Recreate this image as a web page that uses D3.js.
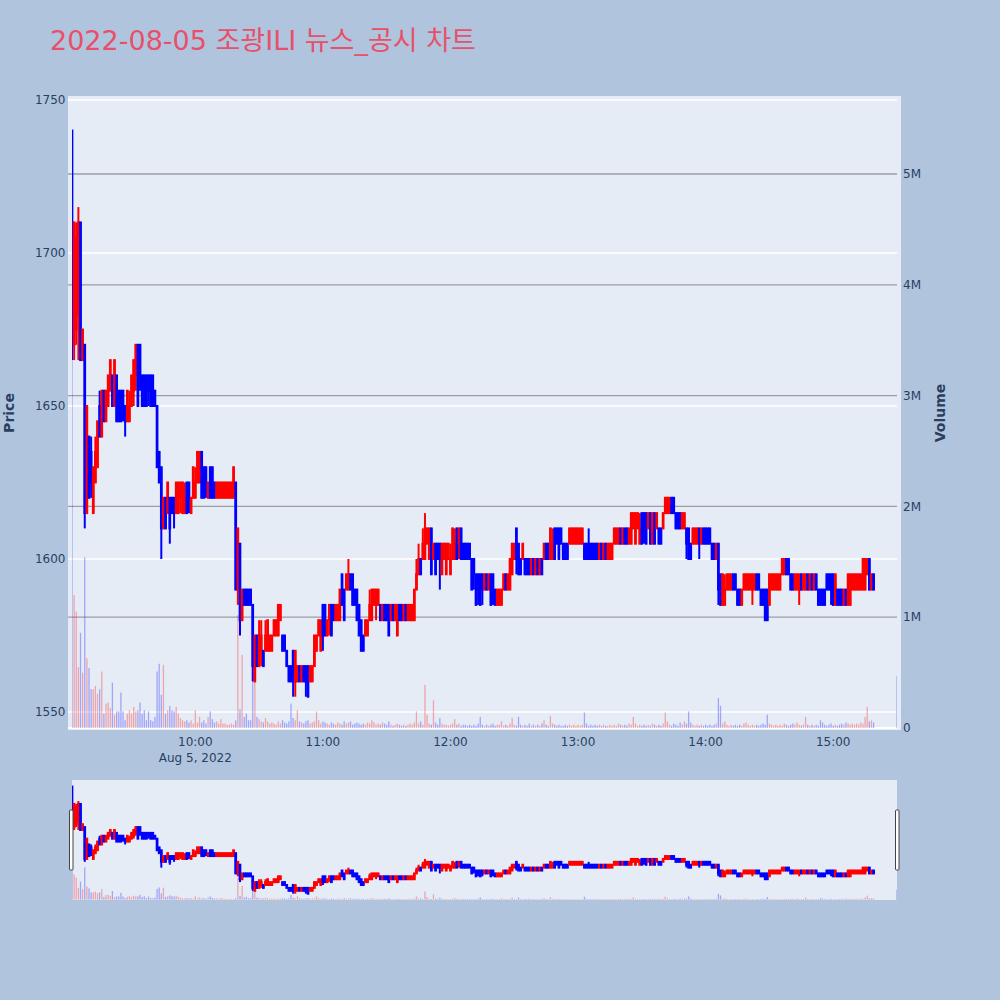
<!DOCTYPE html>
<html><head><meta charset="utf-8">
<script src="https://cdn.jsdelivr.net/npm/d3@7"></script>
<style>body{margin:0;background:#b0c4de;}svg{display:block}</style>
</head><body><svg id="c" width="1000" height="1000"></svg>
<script>
const titleText = "2022-08-05 조광ILI 뉴스_공시 차트";
const times = [
"09:02","09:03","09:04","09:05","09:06","09:07","09:08","09:09",
"09:10","09:11","09:12","09:13","09:14","09:15","09:16","09:17","09:18","09:19",
"09:20","09:21","09:22","09:23","09:24","09:25","09:26","09:27","09:28","09:29",
"09:30","09:31","09:32","09:33","09:34","09:35","09:36","09:37","09:38","09:39",
"09:40","09:41","09:42","09:43","09:44","09:45","09:46","09:47","09:48","09:49",
"09:50","09:51","09:52","09:53","09:54","09:55","09:56","09:57","09:58","09:59",
"10:00","10:01","10:02","10:03","10:04","10:05","10:06","10:07","10:08","10:09",
"10:10","10:11","10:12","10:13","10:14","10:15","10:16","10:17","10:18","10:19",
"10:20","10:21","10:22","10:23","10:24","10:25","10:26","10:27","10:28","10:29",
"10:30","10:31","10:32","10:33","10:34","10:35","10:36","10:37","10:38","10:39",
"10:40","10:41","10:42","10:43","10:44","10:45","10:46","10:47","10:48","10:49",
"10:50","10:51","10:52","10:53","10:54","10:55","10:56","10:57","10:58","10:59",
"11:00","11:01","11:02","11:03","11:04","11:05","11:06","11:07","11:08","11:09",
"11:10","11:11","11:12","11:13","11:14","11:15","11:16","11:17","11:18","11:19",
"11:20","11:21","11:22","11:23","11:24","11:25","11:26","11:27","11:28","11:29",
"11:30","11:31","11:32","11:33","11:34","11:35","11:36","11:37","11:38","11:39",
"11:40","11:41","11:42","11:43","11:44","11:45","11:46","11:47","11:48","11:49",
"11:50","11:51","11:52","11:53","11:54","11:55","11:56","11:57","11:58","11:59",
"12:00","12:01","12:02","12:03","12:04","12:05","12:06","12:07","12:08","12:09",
"12:10","12:11","12:12","12:13","12:14","12:15","12:16","12:17","12:18","12:19",
"12:20","12:21","12:22","12:23","12:24","12:25","12:26","12:27","12:28","12:29",
"12:30","12:31","12:32","12:33","12:34","12:35","12:36","12:37","12:38","12:39",
"12:40","12:41","12:42","12:43","12:44","12:45","12:46","12:47","12:48","12:49",
"12:50","12:51","12:52","12:53","12:54","12:55","12:56","12:57","12:58","12:59",
"13:00","13:01","13:02","13:03","13:04","13:05","13:06","13:07","13:08","13:09",
"13:10","13:11","13:12","13:13","13:14","13:15","13:16","13:17","13:18","13:19",
"13:20","13:21","13:22","13:23","13:24","13:25","13:26","13:27","13:28","13:29",
"13:30","13:31","13:32","13:33","13:34","13:35","13:36","13:37","13:38","13:39",
"13:40","13:41","13:42","13:43","13:44","13:45","13:46","13:47","13:48","13:49",
"13:50","13:51","13:52","13:53","13:54","13:55","13:56","13:57","13:58","13:59",
"14:00","14:01","14:02","14:03","14:04","14:05","14:06","14:07","14:08","14:09",
"14:10","14:11","14:12","14:13","14:14","14:15","14:16","14:17","14:18","14:19",
"14:20","14:21","14:22","14:23","14:24","14:25","14:26","14:27","14:28","14:29",
"14:30","14:31","14:32","14:33","14:34","14:35","14:36","14:37","14:38","14:39",
"14:40","14:41","14:42","14:43","14:44","14:45","14:46","14:47","14:48","14:49",
"14:50","14:51","14:52","14:53","14:54","14:55","14:56","14:57","14:58","14:59",
"15:00","15:01","15:02","15:03","15:04","15:05","15:06","15:07","15:08","15:09",
"15:10","15:11","15:12","15:13","15:14","15:15","15:16","15:17","15:18","15:19",
"15:30"];
const open = [
1740,1670,1675,1680,1710,1665,1670,1615,
1640,1635,1615,1625,1630,1650,1640,1655,1645,1650,
1655,1660,1650,1660,1655,1655,1655,1650,1645,1645,
1650,1655,1660,1670,1670,1660,1660,1660,1660,1660,
1660,1655,1650,1635,1630,1610,1620,1615,1620,1620,
1620,1615,1615,1620,1615,1615,1625,1625,1615,1620,
1620,1625,1625,1635,1630,1630,1620,1630,1630,1625,
1620,1620,1620,1620,1620,1620,1620,1620,1620,1625,
1590,1605,1580,1590,1590,1590,1590,1585,1560,1575,
1565,1570,1570,1570,1570,1570,1570,1575,1575,1575,
1580,1575,1575,1570,1565,1565,1570,1560,1560,1565,
1560,1565,1565,1565,1560,1560,1565,1570,1575,1570,
1585,1585,1575,1580,1585,1585,1580,1580,1580,1595,
1590,1590,1590,1595,1595,1590,1590,1585,1580,1575,
1575,1575,1580,1580,1585,1585,1585,1585,1580,1585,
1585,1585,1580,1585,1580,1575,1585,1585,1580,1585,
1580,1580,1580,1580,1590,1595,1600,1600,1600,1605,
1600,1610,1600,1605,1605,1605,1595,1600,1595,1600,
1595,1600,1600,1610,1605,1610,1605,1605,1605,1605,
1600,1600,1595,1595,1595,1595,1590,1595,1590,1595,
1595,1590,1585,1585,1585,1590,1595,1590,1590,1595,
1600,1610,1605,1600,1600,1600,1600,1600,1595,1600,
1595,1600,1595,1600,1600,1605,1605,1600,1600,1610,
1610,1610,1610,1605,1605,1605,1605,1605,1605,1605,
1605,1605,1605,1605,1605,1605,1605,1605,1605,1605,
1600,1605,1600,1605,1600,1600,1600,1605,1605,1605,
1610,1605,1610,1610,1605,1605,1610,1605,1610,1605,
1615,1615,1615,1610,1615,1605,1615,1610,1610,1610,
1610,1615,1615,1615,1620,1620,1615,1615,1615,1610,
1610,1610,1610,1605,1605,1605,1605,1610,1605,1610,
1610,1610,1610,1605,1605,1600,1605,1595,1585,1585,
1590,1590,1590,1595,1595,1590,1590,1585,1590,1590,
1590,1590,1590,1590,1595,1595,1590,1590,1590,1590,
1585,1590,1590,1590,1590,1590,1595,1595,1600,1600,
1595,1595,1590,1590,1590,1595,1590,1590,1595,1590,
1595,1590,1595,1590,1590,1590,1590,1595,1595,1595,
1595,1585,1590,1590,1590,1585,1590,1585,1585,1590,
1590,1590,1590,1590,1590,1590,1595,1600,1590,1595,
1595];
const high = [
1740,1710,1710,1715,1710,1675,1670,1650,
1640,1640,1630,1640,1645,1655,1655,1655,1655,1660,
1665,1660,1665,1660,1655,1655,1655,1650,1655,1655,
1660,1665,1670,1670,1670,1660,1660,1660,1660,1660,
1660,1655,1650,1635,1630,1620,1620,1625,1620,1620,
1620,1625,1625,1625,1625,1625,1625,1625,1620,1630,
1630,1635,1635,1635,1630,1630,1625,1630,1630,1625,
1625,1625,1625,1625,1625,1625,1625,1625,1630,1625,
1610,1605,1590,1590,1590,1590,1590,1585,1575,1575,
1580,1580,1570,1580,1580,1575,1575,1580,1580,1585,
1585,1575,1575,1570,1565,1565,1570,1570,1565,1565,
1565,1565,1565,1565,1565,1565,1575,1575,1580,1580,
1585,1585,1580,1585,1585,1585,1585,1585,1590,1595,
1590,1595,1600,1595,1595,1590,1590,1585,1580,1575,
1580,1580,1590,1590,1590,1590,1590,1585,1585,1585,
1585,1585,1585,1585,1585,1585,1585,1585,1585,1585,
1585,1585,1585,1590,1600,1605,1600,1610,1615,1610,
1610,1610,1605,1605,1605,1605,1605,1605,1605,1605,
1605,1610,1610,1610,1610,1610,1605,1605,1605,1605,
1600,1600,1595,1595,1595,1595,1595,1595,1595,1595,
1595,1590,1590,1590,1590,1595,1595,1595,1600,1605,
1605,1610,1605,1600,1605,1600,1600,1600,1600,1600,
1600,1600,1600,1600,1605,1605,1605,1610,1610,1610,
1610,1610,1610,1605,1605,1605,1610,1610,1610,1610,
1610,1610,1610,1605,1605,1610,1605,1605,1605,1605,
1605,1605,1605,1605,1605,1605,1605,1610,1610,1610,
1610,1610,1610,1610,1610,1615,1615,1615,1615,1615,
1615,1615,1615,1615,1615,1615,1615,1615,1610,1610,
1615,1620,1620,1620,1620,1620,1615,1615,1615,1615,
1615,1610,1610,1605,1610,1610,1610,1610,1610,1610,
1610,1610,1610,1605,1605,1605,1605,1595,1595,1595,
1595,1595,1595,1595,1595,1590,1590,1590,1595,1595,
1595,1595,1595,1595,1595,1595,1590,1590,1590,1590,
1595,1595,1595,1595,1595,1595,1600,1600,1600,1600,
1595,1595,1595,1595,1595,1595,1595,1595,1595,1595,
1595,1595,1595,1590,1590,1590,1590,1595,1595,1595,
1595,1595,1590,1590,1590,1590,1590,1595,1595,1595,
1595,1595,1595,1595,1600,1600,1600,1600,1595,1595,
1595];
const low = [
1665,1665,1670,1665,1665,1665,1610,1615,
1620,1620,1615,1625,1630,1640,1640,1645,1645,1650,
1655,1650,1650,1645,1645,1645,1645,1640,1645,1645,
1650,1650,1655,1650,1655,1650,1650,1650,1650,1650,
1650,1650,1630,1625,1600,1610,1610,1615,1605,1615,
1610,1615,1615,1615,1615,1615,1615,1615,1615,1620,
1620,1625,1625,1620,1620,1620,1620,1620,1620,1620,
1620,1620,1620,1620,1620,1620,1620,1620,1620,1590,
1585,1575,1580,1585,1585,1585,1585,1560,1560,1565,
1565,1565,1565,1570,1570,1570,1570,1575,1575,1575,
1580,1570,1570,1565,1560,1560,1555,1555,1560,1560,
1560,1560,1555,1555,1560,1560,1565,1570,1575,1570,
1570,1575,1575,1575,1575,1580,1580,1580,1580,1585,
1580,1590,1590,1590,1585,1585,1580,1575,1570,1570,
1575,1575,1580,1580,1585,1580,1585,1580,1580,1580,
1580,1575,1580,1580,1580,1575,1580,1580,1580,1580,
1580,1580,1580,1580,1590,1595,1595,1600,1600,1605,
1600,1595,1600,1595,1600,1590,1595,1600,1595,1600,
1595,1600,1600,1600,1600,1600,1600,1600,1600,1600,
1590,1590,1585,1585,1585,1585,1590,1590,1590,1585,
1585,1585,1585,1585,1585,1590,1590,1590,1590,1595,
1600,1595,1595,1595,1600,1595,1595,1595,1595,1595,
1595,1595,1595,1595,1600,1600,1600,1600,1600,1600,
1605,1600,1605,1600,1600,1600,1605,1605,1605,1605,
1605,1605,1605,1600,1600,1600,1600,1600,1600,1600,
1600,1600,1600,1600,1600,1600,1600,1605,1605,1605,
1605,1605,1605,1605,1605,1605,1610,1605,1610,1605,
1605,1605,1605,1610,1605,1605,1605,1610,1605,1605,
1610,1615,1615,1615,1615,1615,1610,1610,1610,1610,
1610,1600,1600,1600,1605,1605,1605,1600,1605,1605,
1605,1605,1605,1600,1600,1600,1585,1585,1585,1585,
1590,1590,1590,1590,1590,1585,1585,1585,1590,1590,
1590,1590,1585,1590,1590,1590,1585,1585,1580,1580,
1585,1590,1590,1590,1590,1590,1595,1595,1595,1595,
1590,1590,1590,1590,1585,1590,1590,1590,1590,1590,
1590,1590,1590,1585,1585,1585,1585,1590,1590,1585,
1585,1585,1585,1585,1585,1585,1585,1585,1585,1590,
1590,1590,1590,1590,1590,1590,1595,1590,1590,1590,
1595];
const close = [
1670,1710,1705,1710,1665,1675,1615,1650,
1620,1625,1630,1635,1645,1640,1655,1645,1655,1660,
1665,1650,1665,1645,1645,1645,1650,1645,1655,1650,
1660,1665,1670,1650,1660,1650,1650,1650,1655,1650,
1650,1650,1630,1625,1610,1620,1610,1625,1610,1615,
1615,1625,1625,1625,1625,1620,1615,1620,1620,1630,
1625,1635,1635,1620,1620,1625,1625,1620,1620,1620,
1625,1625,1625,1625,1625,1625,1625,1625,1630,1590,
1610,1580,1590,1585,1585,1585,1585,1565,1575,1565,
1575,1575,1565,1575,1580,1575,1575,1580,1580,1585,
1585,1570,1570,1565,1560,1560,1560,1570,1565,1560,
1565,1560,1560,1555,1565,1565,1575,1575,1580,1580,
1575,1575,1580,1585,1575,1580,1585,1585,1590,1585,
1580,1595,1595,1590,1585,1585,1580,1575,1570,1570,
1580,1580,1585,1590,1590,1590,1590,1580,1585,1580,
1580,1575,1585,1580,1585,1585,1580,1580,1585,1580,
1585,1585,1585,1590,1595,1600,1595,1605,1610,1610,
1610,1595,1605,1595,1600,1600,1605,1605,1605,1605,
1600,1610,1605,1600,1610,1600,1600,1600,1600,1600,
1590,1595,1585,1590,1585,1590,1595,1590,1595,1585,
1590,1585,1590,1590,1590,1595,1590,1595,1600,1605,
1605,1600,1595,1595,1605,1595,1595,1595,1600,1595,
1600,1595,1600,1595,1605,1600,1600,1610,1605,1600,
1605,1600,1605,1600,1600,1600,1610,1610,1610,1610,
1610,1610,1610,1600,1600,1600,1600,1600,1600,1600,
1605,1600,1605,1600,1605,1605,1605,1610,1610,1610,
1605,1610,1605,1605,1610,1615,1615,1615,1615,1610,
1605,1610,1605,1615,1605,1615,1605,1615,1605,1605,
1615,1620,1620,1620,1615,1615,1610,1610,1610,1615,
1615,1605,1600,1600,1610,1610,1610,1605,1610,1605,
1605,1605,1605,1600,1600,1605,1590,1585,1595,1590,
1595,1595,1595,1590,1590,1585,1585,1590,1595,1595,
1595,1595,1595,1595,1590,1590,1585,1585,1580,1580,
1595,1595,1595,1595,1595,1595,1600,1600,1595,1595,
1590,1590,1595,1595,1595,1590,1595,1595,1590,1595,
1590,1595,1590,1585,1585,1585,1585,1590,1590,1590,
1585,1595,1585,1585,1585,1590,1585,1595,1595,1595,
1595,1595,1595,1595,1600,1600,1600,1590,1595,1590,
1595];
// volume in thousands of shares
const volumeK = [
5400,1200,1050,550,860,500,1540,630,
540,350,350,380,310,350,510,130,220,230,
180,410,120,150,150,320,150,70,130,160,
130,190,150,160,230,130,160,70,150,70,
60,100,510,580,300,570,130,160,200,160,
150,190,130,90,70,60,70,50,70,40,
160,50,100,50,70,40,100,150,80,50,
60,40,80,40,40,30,30,40,30,70,
1020,170,660,100,130,70,70,500,420,100,
80,60,50,90,60,40,50,40,30,60,
40,70,50,40,60,220,90,70,160,60,
50,40,60,70,40,50,60,150,70,40,
60,50,40,30,50,40,30,50,40,30,
60,40,50,60,30,40,50,40,30,40,
30,50,40,70,50,30,40,30,50,40,
30,60,30,20,30,40,30,20,30,20,
30,40,30,50,150,40,60,30,390,120,
40,30,250,50,30,90,40,30,30,20,
30,40,80,30,40,20,30,30,20,30,
20,30,20,40,100,30,20,30,20,30,
40,20,30,30,60,20,30,20,40,90,
30,20,100,30,20,30,20,40,20,30,
20,30,20,40,70,30,20,110,40,30,
20,30,20,20,30,20,30,20,30,20,
30,20,30,140,40,20,30,20,30,20,
30,20,30,20,20,30,20,30,20,40,
30,20,30,20,40,30,100,40,20,30,
20,30,20,30,20,40,30,20,30,20,
40,140,60,30,20,40,30,20,50,30,
60,40,150,50,30,20,30,20,30,20,
30,20,30,20,30,40,270,200,40,60,
30,20,30,20,30,20,30,20,40,50,
30,20,30,20,30,20,30,40,30,120,
40,30,20,30,20,30,20,40,30,20,
30,40,30,50,30,20,30,100,30,20,
30,20,30,20,70,50,30,20,30,40,
20,30,20,30,40,30,50,40,30,40,
30,40,30,50,40,100,190,60,70,50,
470];
const priceTicks = [1550, 1600, 1650, 1700, 1750];
const volumeTicksK = [0, 1000, 2000, 3000, 4000, 5000];
const volumeTickLabels = ["0", "1M", "2M", "3M", "4M", "5M"];
const timeTicks = ["10:00", "11:00", "12:00", "13:00", "14:00", "15:00"];
const dateLabel = "Aug 5, 2022";

const svg = d3.select("#c");
const FONT = "'DejaVu Sans', Verdana, 'Noto Sans CJK KR', sans-serif";
const TXT = "#2a3f5f";
const PLOT_BG = "#e5ecf6";
const UP = "#ff0000", DOWN = "#0000ff";

function toDate(t){ const [h,m] = t.split(":").map(Number); return new Date(2022,7,5,h,m); }
const data = times.map((t,i)=>({t:toDate(t), o:open[i], h:high[i], l:low[i], c:close[i], v:volumeK[i]}));

const x = d3.scaleTime().domain([data[0].t, data[data.length-1].t]).range([72, 897]);
const y = d3.scaleLinear().domain([1544.12, 1751.31]).range([730, 96]);
const yv = d3.scaleLinear().domain([-18, 5704]).range([730, 96]);

svg.append("rect").attr("width",1000).attr("height",1000).attr("fill","#b0c4de");

// title
svg.append("text").attr("x",50).attr("y",50).attr("font-family",FONT)
  .attr("font-size",27).attr("fill","#e8506a").text(titleText);

// main plot background
svg.append("rect").attr("x",68).attr("y",96).attr("width",833).attr("height",634).attr("fill",PLOT_BG);

// gridlines
const grid = svg.append("g");
volumeTicksK.forEach(v=>{
  grid.append("line").attr("x1",68).attr("x2",897).attr("y1",yv(v)).attr("y2",yv(v))
    .attr("stroke", v===0 ? "#ffffff" : "#9c9ea3").attr("stroke-width", v===0 ? 2 : 1.3);
});
priceTicks.forEach(p=>{
  grid.append("line").attr("x1",68).attr("x2",897).attr("y1",y(p)).attr("y2",y(p))
    .attr("stroke","#ffffff").attr("stroke-width",1.3);
});

svg.append("defs").html(
  '<clipPath id="clipMain"><rect x="72" y="96" width="825" height="634"/></clipPath>'+
  '<clipPath id="clipMini"><rect x="72" y="780" width="825" height="120"/></clipPath>');

function drawSeries(g, ys, yvs){
  const isUp = d => d.c >= d.o;
  const volUp = d => d.c > d.o;
  g.append("g").selectAll("rect").data(data).join("rect")
    .attr("x", d=>x(d.t)-0.65).attr("width",1.3)
    .attr("y", d=>yvs(d.v)).attr("height", d=>Math.max(0, yvs(0)-yvs(d.v)))
    .attr("fill", d=>volUp(d) ? "rgba(255,0,0,0.3)" : "rgba(0,0,255,0.3)");
  const cg = g.append("g");
  cg.selectAll("line").data(data).join("line")
    .attr("x1", d=>x(d.t)).attr("x2", d=>x(d.t))
    .attr("y1", d=>ys(d.h)).attr("y2", d=>ys(d.l))
    .attr("stroke", d=>isUp(d)?UP:DOWN).attr("stroke-width",2);
  cg.selectAll("rect").data(data).join("rect")
    .attr("x", d=>x(d.t)-0.35).attr("width",0.7)
    .attr("y", d=>ys(Math.max(d.o,d.c))).attr("height", d=>Math.abs(ys(d.o)-ys(d.c)))
    .attr("fill", d=>isUp(d)?"rgba(255,0,0,0.5)":"rgba(0,0,255,0.5)")
    .attr("stroke", d=>isUp(d)?UP:DOWN).attr("stroke-width",2);
}
drawSeries(svg.append("g").attr("clip-path","url(#clipMain)"), y, yv);

// axes text
const axT = svg.append("g").attr("font-family",FONT).attr("font-size",12).attr("fill",TXT);
priceTicks.forEach(p=>{
  axT.append("text").attr("x",65.5).attr("y",y(p)).attr("dy","0.35em").attr("text-anchor","end").text(p);
});
volumeTicksK.forEach((v,i)=>{
  axT.append("text").attr("x",903).attr("y",yv(v)).attr("dy","0.35em").attr("text-anchor","start").text(volumeTickLabels[i]);
});
timeTicks.forEach((t,i)=>{
  const xx = x(toDate(t));
  axT.append("text").attr("x",xx).attr("y",742).attr("dy","0.35em").attr("text-anchor","middle").text(t);
  if(i===0) axT.append("text").attr("x",xx).attr("y",758).attr("dy","0.35em").attr("text-anchor","middle").text(dateLabel);
});
svg.append("text").attr("transform","translate(14,413) rotate(-90)").attr("text-anchor","middle")
  .attr("font-family",FONT).attr("font-size",14).attr("font-weight","bold").attr("fill",TXT).text("Price");
svg.append("text").attr("transform","translate(945,413) rotate(-90)").attr("text-anchor","middle")
  .attr("font-family",FONT).attr("font-size",14).attr("font-weight","bold").attr("fill",TXT).text("Volume");

// range slider
svg.append("rect").attr("x",72).attr("y",780).attr("width",825).attr("height",120).attr("fill",PLOT_BG);
const ys2 = d3.scaleLinear().domain(y.domain()).range([900,780]);
const yv2 = d3.scaleLinear().domain(yv.domain()).range([900,780]);
drawSeries(svg.append("g").attr("clip-path","url(#clipMini)"), ys2, yv2);
[69.5, 895.5].forEach(hx=>{
  svg.append("rect").attr("x",hx).attr("y",810).attr("width",3.5).attr("height",60)
    .attr("rx",1).attr("fill","#ffffff").attr("stroke","#444").attr("stroke-width",1);
});
</script></body></html>
